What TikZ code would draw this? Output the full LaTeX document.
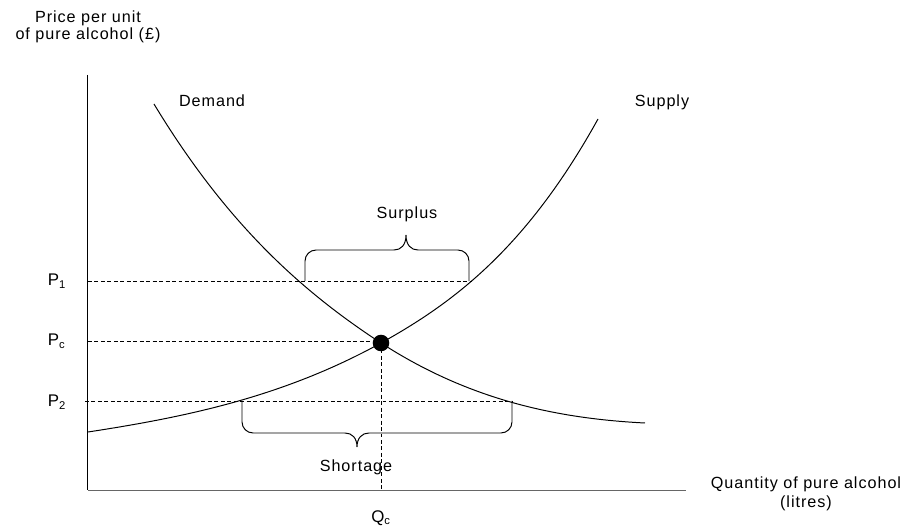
\documentclass[tikz,border=0pt]{standalone}
\usepackage{fontspec}
\setmainfont{Liberation Sans}[LetterSpace=6]
\usetikzlibrary{calc}
\tikzset{
	curve/.style={line width=0.7pt, black},
	guide/.style={line width=0.5pt, dash pattern=on 2.8pt off 1.8pt},
	axislabel/.style={align=center, font=\fontsize{11.5}{10.6}\selectfont},
	curvelabel/.style={anchor=base, font=\fontsize{11.5}{13}\selectfont},
	pricelabel/.style={anchor=base west, font=\fontsize{12}{14}\selectfont},
}

\begin{document}
\begin{tikzpicture}[x=0.025cm, y=-0.025cm]
			%%%%% START %%%%%
			\useasboundingbox (0, 0) rectangle (904, 531);
			
			% axes
			\draw[line width=1pt] (87.5, 75) -- (87.5, 490);
			\draw[line width=0.6pt, color=black!60] (88, 490) -- (686, 490);
			
			% demand and supply
			\coordinate (eq) at (381, 343);
			\draw[curve] (154, 104) .. controls (229, 228) and (306, 294) .. (eq)
				.. controls (469, 400) and (557, 418.6) .. (645, 423);
			\draw[curve] (88, 432) .. controls (186, 417) and (283, 397) .. (eq)
				.. controls (453, 303) and (526, 249) .. (598, 119);
			
			% price levels
			\draw[guide] (88, 281) -- (472, 281);
			\draw[guide] (88, 341) -- (381, 341);
			\draw[guide] (85, 401) -- (512, 401);
			\draw[guide] (eq) -- (381, 490);
			\fill (eq) circle[radius=5.9pt];
			
			% surplus brace
			\draw[curve] (305, 281) -- (305, 261) .. controls (305, 255) and (310, 250) .. (316, 250) -- (394, 250)
				.. controls (401, 250) and (406, 245) .. (406, 235) .. controls (406, 245) and (411, 250) .. (418, 250)
				-- (458, 250) .. controls (464, 250) and (469, 255) .. (469, 261) -- (469, 281);
			% shortage brace
			\draw[curve] (242, 401) -- (242, 422) .. controls (242, 428) and (247, 433) .. (253, 433) -- (345, 433)
				.. controls (352, 433) and (357, 438) .. (357, 447) .. controls (357, 438) and (362, 433) .. (369, 433)
				-- (501, 433) .. controls (507, 433) and (512, 428) .. (512, 422) -- (512, 401);
			
			\node[axislabel] (ytitle) at (88, 27) {Price per unit\\of pure alcohol (\pounds)};
			\node[axislabel, font=\fontsize{11.5}{13.5}\selectfont] (xtitle) at (806, 494) {Quantity of pure alcohol\\(litres)};
			\node[curvelabel] (dlabel) at (212, 107) {Demand};
			\node[curvelabel] (slabel) at (662, 107) {Supply};
			\node[curvelabel] (surplus) at (407, 219) {Surplus};
			\node[curvelabel] (shortage) at (356, 472) {Shortage};
			
			\node[pricelabel] (pone) at (43, 286) {P\textsubscript{1}};
			\node[pricelabel] (pc) at (43, 346) {P\textsubscript{c}};
			\node[pricelabel] (ptwo) at (43, 407) {P\textsubscript{2}};
			\node[pricelabel, anchor=base] (qc) at (381, 522) {Q\textsubscript{c}};
			%%%%% END %%%%%
\end{tikzpicture}
\end{document}
